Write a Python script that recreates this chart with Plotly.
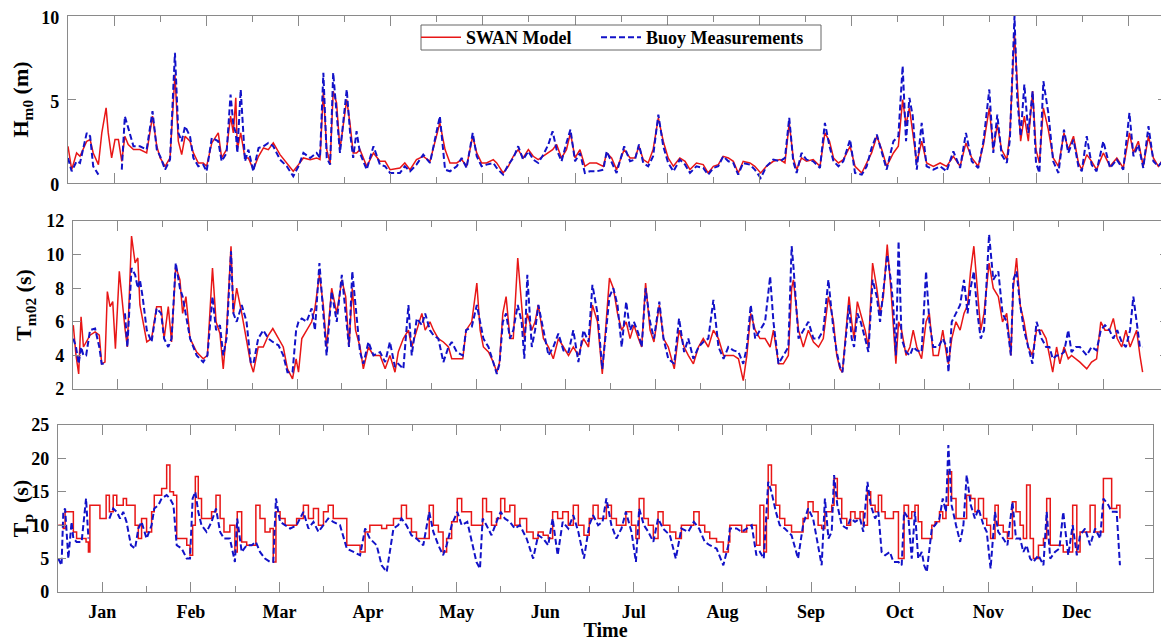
import plotly.graph_objects as go

# ---------------- data (day of year, values) ----------------
month_labels = ["Jan", "Feb", "Mar", "Apr", "May", "Jun", "Jul", "Aug", "Sep", "Oct", "Nov", "Dec"]

hm0_day = [0.0,1.2,2.8,3.9,6.1,7.2,8.2,9.9,11.0,12.4,
           13.1,14.2,15.3,16.4,17.5,18.5,19.6,21.3,23.4,25.6,
           27.5,28.9,30.0,31.6,33.2,34.8,35.9,37.0,38.1,39.7,
           40.8,42.4,44.0,45.1,46.8,48.9,50.0,51.6,52.9,53.8,
           54.6,55.1,56.2,57.6,58.7,60.3,62.0,63.6,65.2,66.8,
           69.0,71.2,73.3,75.0,76.6,78.8,80.9,82.0,83.1,84.2,
           85.3,86.3,87.4,88.5,90.7,91.8,92.8,93.9,95.0,97.2,
           99.4,101.5,103.2,104.8,108.0,109.6,111.3,113.4,115.6,117.8,
           119.4,121.0,122.7,124.3,126.5,128.1,129.7,131.7,133.0,134.6,
           136.2,138.4,139.5,141.6,143.3,144.9,146.5,148.1,149.8,151.4,
           153.0,154.7,156.3,157.7,159.0,160.6,162.2,163.5,165.0,166.6,
           168.2,169.8,172.0,174.2,175.3,176.9,178.5,181.0,182.9,184.5,
           185.8,187.2,188.8,190.4,192.1,193.7,195.3,197.0,199.1,200.8,
           202.4,204.5,206.7,208.3,210.0,211.6,213.2,214.9,216.5,218.1,
           219.7,221.9,223.5,225.4,227.3,229.5,231.7,233.3,234.7,236.0,
           237.1,238.7,240.3,242.5,244.7,246.3,247.8,249.1,250.7,252.3,
           254.5,256.1,258.3,259.9,261.5,263.2,264.8,266.4,268.6,270.2,
           271.6,272.7,273.8,274.9,276.2,277.8,279.4,281.6,283.8,285.9,
           288.1,290.3,292.2,294.1,296.2,297.9,299.8,301.1,302.4,303.8,
           305.5,306.5,308.0,308.9,310.0,311.2,312.5,313.9,315.0,316.1,
           317.4,319.0,320.6,322.3,324.1,325.5,327.2,328.8,329.9,331.5,
           333.1,334.7,336.9,339.1,341.3,343.4,345.4,346.7,348.3,349.9,
           351.6,353.2,354.8,357.0]
hm0_swan = [2.2,0.8,1.8,1.6,2.5,2.6,1.8,1.1,3.0,4.5,
            3.0,1.5,2.6,2.6,1.3,2.8,2.3,2.0,2.0,1.8,
            4.0,2.2,1.5,1.0,1.5,6.5,2.5,1.7,2.8,2.5,
            1.8,1.2,1.2,1.0,2.4,3.0,1.5,2.0,4.0,3.0,
            5.1,2.0,3.0,1.5,1.5,0.8,1.6,2.1,2.0,2.4,
            1.7,1.2,0.7,1.1,1.5,1.4,1.5,1.4,5.5,2.0,
            1.2,5.5,4.8,2.0,5.0,3.5,1.8,1.8,2.0,1.0,
            1.8,1.3,1.3,0.8,0.9,1.2,0.8,1.4,1.6,1.3,
            2.5,3.6,2.0,1.2,1.2,1.4,1.0,2.8,1.8,1.2,
            1.2,1.4,1.2,0.6,1.0,1.6,2.0,1.5,2.0,1.6,
            1.4,1.6,1.8,2.0,2.3,1.5,2.0,3.0,1.5,2.0,
            1.0,1.2,1.2,1.0,1.8,1.5,0.8,2.0,1.5,1.5,
            2.2,1.4,1.2,2.0,3.9,2.5,1.5,1.0,1.5,1.3,
            0.8,1.2,1.1,0.6,1.0,1.1,1.6,1.5,1.3,0.6,
            1.3,1.2,1.0,0.6,1.0,1.3,1.4,1.2,3.6,1.5,
            0.8,1.5,1.3,1.4,1.0,3.0,2.5,1.5,1.2,1.4,
            2.2,1.0,0.6,1.2,1.8,2.8,2.0,1.0,1.8,2.2,
            5.0,3.5,4.5,3.0,1.2,2.5,1.2,1.0,1.2,1.0,
            1.6,1.0,2.4,1.5,1.0,2.3,4.5,2.0,3.5,2.0,
            1.4,3.0,9.0,6.0,2.5,4.0,2.5,5.5,2.0,1.2,
            4.5,3.2,1.5,1.0,3.0,2.0,2.8,1.2,0.8,1.7,
            1.3,0.8,1.8,1.0,1.5,0.9,3.0,1.8,2.5,1.0,
            2.8,1.5,1.0,1.6]
hm0_buoy = [1.5,0.7,1.3,1.2,3.0,2.8,1.0,0.5,None,None,
            None,None,None,None,0.8,4.0,3.3,2.2,2.2,2.0,
            4.3,2.0,1.6,0.8,1.4,7.8,3.0,2.5,3.4,2.8,
            1.5,1.0,1.1,0.7,2.7,2.5,1.3,1.8,5.3,3.5,
            3.0,1.8,5.6,1.3,2.0,0.7,2.1,2.2,2.4,2.2,
            1.4,1.0,0.4,1.0,1.8,1.5,1.8,1.5,6.6,1.5,
            1.1,6.6,4.2,1.8,5.6,3.0,1.5,3.1,1.8,0.8,
            2.2,1.1,1.0,0.6,0.6,1.0,0.7,1.1,1.7,1.2,
            2.6,4.0,0.8,0.7,1.0,1.5,0.9,3.0,1.6,1.0,
            1.1,1.2,0.9,0.5,1.1,1.5,2.2,1.4,1.9,1.4,
            1.2,1.7,2.3,3.1,2.0,1.3,2.4,3.2,1.3,1.8,
            0.6,0.7,0.7,0.8,1.9,1.3,0.6,2.2,1.3,1.4,
            2.3,1.2,1.0,1.6,4.1,2.2,1.2,0.7,1.4,1.1,
            0.6,1.0,0.9,0.5,0.9,1.0,1.6,1.3,1.2,0.5,
            1.2,1.1,0.8,0.3,1.0,1.4,1.3,1.5,3.9,1.3,
            0.6,1.8,1.4,1.3,0.9,3.6,2.2,1.3,1.0,1.3,
            2.6,0.6,0.5,1.0,2.1,2.9,1.8,0.8,2.5,2.8,
            7.0,2.5,5.1,4.0,0.8,3.6,1.0,0.8,1.0,0.7,
            1.9,0.9,3.0,1.3,0.9,2.5,5.6,1.8,4.1,1.7,
            1.2,2.6,10.0,5.0,2.8,5.9,3.0,5.5,1.2,0.6,
            6.1,4.2,1.3,0.6,3.2,1.8,2.6,1.0,0.7,2.8,
            1.1,0.7,2.5,0.9,1.4,0.8,4.2,1.6,2.3,0.9,
            3.4,1.3,1.0,1.5]

tm02_day = [0.1,1.0,1.9,2.7,3.5,4.4,5.7,7.4,8.8,9.6,
            10.7,11.5,12.4,13.3,14.2,15.5,16.3,17.4,18.2,19.6,
            20.8,21.7,22.4,23.3,24.7,26.3,28.0,29.5,30.5,31.9,
            33.0,34.4,35.8,36.7,37.8,39.2,41.4,43.6,45.0,46.7,
            47.9,49.2,50.3,51.4,52.9,53.7,54.8,56.5,58.1,59.5,
            60.4,62.0,63.7,65.4,66.9,68.8,70.4,71.8,73.5,74.7,
            75.5,76.6,78.2,79.9,81.0,82.5,83.8,84.9,86.6,88.3,
            90.0,91.3,92.4,93.5,94.6,96.1,97.2,98.9,100.6,102.8,
            104.5,106.1,107.8,108.9,110.6,112.3,113.4,115.1,116.8,117.9,
            119.5,120.7,122.3,124.0,125.7,126.8,128.5,130.5,131.6,133.5,
            135.2,136.3,137.4,139.1,140.7,141.9,142.8,143.9,145.0,146.3,
            147.4,148.9,150.2,151.1,152.1,153.6,154.7,155.8,157.5,159.2,
            160.8,162.5,164.2,165.9,167.5,169.2,170.9,172.6,173.9,175.6,
            177.2,178.5,179.6,180.9,182.3,183.7,185.2,186.5,187.8,189.3,
            190.4,191.7,193.2,194.5,196.3,197.7,199.3,201.3,202.9,204.6,
            206.0,207.7,209.4,211.0,212.7,214.4,216.1,217.8,219.4,221.1,
            222.8,224.4,225.6,226.9,228.4,230.0,231.7,233.4,234.5,236.2,
            237.8,239.5,240.6,241.2,242.9,244.5,246.2,247.9,249.6,251.2,
            252.9,254.6,255.7,256.8,257.6,258.7,259.8,260.7,261.5,262.6,
            263.7,265.2,266.3,267.7,269.1,270.2,271.3,272.6,273.8,274.6,
            275.5,276.4,277.4,278.9,280.2,281.3,282.5,284.1,285.6,286.7,
            288.0,289.7,291.2,292.5,293.1,294.2,295.6,297.0,298.3,299.5,
            300.5,301.6,302.8,303.9,305.0,306.7,308.1,309.8,311.2,312.6,
            314.0,314.8,315.9,317.1,318.4,319.8,321.2,322.6,324.3,325.8,
            326.9,328.0,329.3,330.4,331.8,333.2,334.3,335.8,337.1,339.4,
            341.0,342.7,344.1,345.5,347.0,348.3,349.6,351.1,352.5,353.9,
            355.0,356.1,357.2,358.1]
tm02_swan = [5.8,4.0,2.9,6.3,4.5,4.8,5.2,5.4,5.2,3.5,
             3.6,7.8,6.9,7.2,4.4,9.0,7.5,5.6,4.5,11.1,
             9.5,9.8,7.0,6.2,4.8,5.0,6.9,6.9,5.0,6.9,
             4.8,9.3,8.5,6.5,7.5,5.0,4.2,3.8,4.0,9.2,
             6.0,5.3,3.2,5.5,10.5,6.5,8.0,6.5,5.0,3.5,
             3.0,4.5,4.5,5.2,5.6,5.0,4.5,3.2,2.6,3.8,
             3.0,5.0,5.5,6.0,6.8,8.8,7.0,4.5,8.0,6.5,
             8.5,7.5,4.5,8.0,5.5,4.5,3.2,4.5,4.0,4.0,
             3.2,4.0,3.0,4.2,5.0,5.5,4.5,5.5,6.5,5.5,
             6.0,5.5,5.0,4.8,4.5,3.8,3.8,3.8,5.5,6.0,
             8.3,5.5,4.5,4.2,3.6,3.0,3.6,6.5,7.5,5.0,
             5.0,9.8,7.0,5.0,6.5,5.5,6.0,7.0,5.0,4.5,
             3.8,5.0,4.5,4.0,4.5,4.0,5.0,4.5,7.0,6.0,
             2.9,6.0,8.6,8.0,6.5,5.5,6.0,5.0,5.8,5.0,
             4.5,8.3,5.5,4.8,7.0,5.0,4.5,3.2,5.5,4.5,
             4.0,3.5,4.5,5.0,4.5,5.5,5.0,4.0,4.0,4.0,
             3.8,2.5,4.0,6.5,5.5,5.0,5.0,4.5,5.5,3.5,
             3.5,4.0,8.0,8.5,5.5,4.5,5.5,4.8,4.5,5.0,
             7.5,6.0,4.0,3.2,3.0,5.5,7.5,6.0,5.0,7.2,
             6.5,5.5,4.5,9.5,8.0,6.5,7.5,10.6,8.0,6.0,
             3.5,6.0,5.5,4.0,4.5,5.5,4.5,3.8,6.0,6.5,
             4.0,4.0,5.5,4.0,3.5,5.0,6.0,5.5,6.5,7.0,
             9.0,10.5,8.0,5.5,6.5,9.5,8.0,7.5,6.0,6.5,
             4.0,8.0,9.8,7.0,6.0,4.5,4.0,5.5,5.5,5.0,
             4.0,3.0,4.5,3.5,4.5,3.8,4.0,3.8,3.6,3.2,
             3.6,3.8,6.0,5.5,5.5,6.2,5.0,4.5,5.5,4.5,
             5.0,5.5,4.0,3.0]
tm02_buoy = [5.0,4.5,3.5,4.5,4.0,4.0,5.5,5.6,4.5,3.5,
             3.5,None,None,None,None,None,None,6.5,4.5,9.2,
             8.8,8.0,8.5,7.5,5.5,4.8,6.8,6.5,5.0,4.5,
             5.0,9.5,8.0,7.5,6.5,5.0,4.0,3.6,4.0,7.5,
             5.5,5.8,4.0,5.0,10.2,6.5,6.0,7.0,6.0,3.6,
             3.5,5.0,5.5,5.0,4.8,4.6,4.0,3.0,3.0,5.5,
             6.0,6.2,6.0,6.8,5.5,9.5,6.5,4.0,7.8,6.0,
             8.8,6.5,4.5,9.0,6.8,4.2,3.5,4.8,4.0,4.2,
             3.6,4.8,3.3,3.5,3.2,7.0,4.0,6.2,5.8,6.5,
             5.5,5.2,5.0,3.6,4.5,4.8,4.2,4.0,5.5,5.7,
             7.0,6.0,5.0,4.5,3.5,2.9,3.5,6.0,6.5,5.0,
             5.5,7.0,6.0,3.8,8.8,4.5,5.5,7.0,5.5,4.0,
             4.5,5.3,4.3,4.2,5.5,3.6,5.5,4.8,8.2,6.5,
             3.2,5.5,7.5,8.0,7.0,4.5,7.2,5.5,6.0,5.3,
             4.5,8.0,6.0,5.0,7.2,5.0,3.8,3.5,6.2,4.2,
             5.0,3.8,4.5,4.8,5.0,7.3,4.5,3.8,4.5,4.3,
             4.2,3.5,4.5,7.0,5.0,5.5,6.0,8.7,6.0,3.5,
             4.0,4.5,10.5,9.3,5.0,5.5,6.0,5.0,5.0,5.5,
             8.5,5.5,4.2,3.3,3.0,5.0,7.0,5.0,4.5,6.5,
             6.0,5.0,4.2,8.5,7.5,6.0,8.0,10.0,8.5,7.0,
             4.0,10.8,5.0,4.2,4.0,4.5,4.3,4.2,9.0,6.0,
             4.5,4.5,5.0,4.5,3.0,6.0,6.5,7.0,8.5,6.5,
             8.0,9.0,6.5,5.0,5.5,11.2,8.5,9.0,6.5,6.0,
             4.0,8.5,9.0,7.0,5.5,4.5,3.5,6.0,5.0,4.5,
             4.5,3.8,4.0,4.0,4.2,5.5,4.2,4.5,4.5,4.0,
             4.5,4.3,5.5,5.8,5.5,5.0,5.5,4.8,4.5,5.5,
             7.5,6.0,4.5,4.5]

tp_day = [0.1,1.2,1.8,2.4,3.5,4.6,5.2,6.3,8.0,9.5,
          10.3,10.8,13.1,14.2,16.3,17.4,18.7,19.9,21.0,22.1,
          23.2,24.7,26.1,27.2,28.3,30.0,31.7,32.6,34.0,35.1,
          36.8,37.9,39.1,40.2,41.9,43.6,44.7,45.6,46.5,47.5,
          48.6,50.3,52.0,53.5,54.9,56.2,58.2,59.9,60.7,62.2,
          63.9,65.6,67.0,68.4,70.1,71.8,72.9,73.8,75.2,76.9,
          78.6,80.8,83.1,84.8,86.5,88.2,89.9,91.5,93.2,95.5,
          97.8,100.0,102.3,104.0,105.6,107.9,109.6,111.3,113.6,115.2,
          116.3,118.0,119.7,121.4,123.7,125.7,127.1,128.8,130.4,131.6,
          133.3,135.2,136.7,138.6,140.0,141.7,142.9,143.8,145.1,146.8,
          148.5,149.9,151.3,153.0,154.7,156.4,158.7,160.9,162.6,164.3,
          166.0,167.5,169.2,170.9,172.8,174.5,176.2,178.1,179.9,181.2,
          182.9,184.4,185.7,187.4,189.1,190.8,192.3,194.2,195.7,196.8,
          198.4,199.9,201.6,203.2,204.9,207.2,209.2,211.1,213.4,215.3,
          217.1,219.0,220.7,223.0,225.3,227.0,227.5,229.8,231.5,233.2,
          234.9,236.5,237.7,239.0,239.9,240.5,241.6,243.1,244.4,246.1,
          248.4,250.6,252.3,254.0,255.7,257.4,258.6,259.7,260.9,262.0,
          262.8,263.9,265.4,267.1,268.4,269.9,271.6,272.7,274.1,275.2,
          276.7,277.8,278.9,280.1,281.7,282.9,284.6,285.7,286.5,288.0,
          289.1,290.2,291.3,292.5,293.3,294.2,295.9,297.0,298.5,299.6,
          300.7,301.5,302.6,304.1,305.5,306.6,307.7,309.1,310.5,311.7,
          313.4,314.5,315.8,317.3,318.4,320.1,321.5,323.2,324.4,325.8,
          326.9,328.0,329.2,330.3,332.0,333.7,334.8,336.0,337.6,339.1,
          340.4,342.1,343.6,345.0,346.1,347.8,349.5,351.2,352.9,354.0,
          355.7,356.8,358.5,359.6]
tp_swan = [10.0,10.0,9.5,12.0,12.0,12.0,9.0,8.0,8.0,7.5,
           6.0,13.0,13.0,11.0,14.5,12.0,14.5,13.0,13.0,14.0,
           13.0,13.0,10.0,8.0,11.0,9.0,12.0,14.5,14.5,15.5,
           19.0,15.0,14.5,8.0,8.0,7.0,5.5,10.0,17.3,14.0,
           11.0,11.0,12.0,14.5,11.0,9.0,10.0,6.0,12.0,7.5,
           7.0,7.0,13.0,11.0,9.0,9.5,4.5,12.0,11.0,10.0,
           10.0,11.0,13.0,11.0,12.5,10.0,12.0,13.0,11.0,11.0,
           7.0,7.0,6.0,9.0,10.0,10.0,9.5,10.0,11.0,11.0,
           13.0,11.0,9.0,8.0,8.0,13.0,10.0,9.0,6.0,8.0,
           10.5,14.0,12.0,12.0,10.0,10.0,10.0,14.0,12.0,10.0,
           11.0,14.0,12.0,13.0,10.0,11.0,9.0,8.0,9.0,8.5,
           8.0,12.0,11.0,12.0,10.0,13.0,10.0,8.5,11.0,13.0,
           11.0,11.0,13.0,11.0,10.0,10.0,12.0,10.0,8.0,14.0,
           11.0,10.0,8.0,12.0,10.0,9.0,8.0,10.0,10.0,12.0,
           10.0,9.0,8.0,7.5,6.0,7.5,10.0,10.0,9.0,10.0,
           10.0,7.0,13.0,6.0,11.0,19.0,16.0,13.0,11.0,10.0,
           9.0,9.0,11.0,13.5,12.0,10.0,9.5,12.0,12.0,13.0,
           17.0,14.0,11.0,10.0,12.0,11.0,12.0,10.0,15.0,13.0,
           12.0,14.5,12.0,11.0,11.0,12.0,5.0,5.0,13.0,11.0,
           12.0,13.0,10.5,8.0,8.0,8.0,10.0,10.5,12.0,11.0,
           13.0,18.0,14.0,11.0,11.0,11.0,14.5,14.0,12.0,14.0,
           11.0,10.0,8.0,13.0,10.0,9.0,8.0,13.5,12.0,10.0,
           8.0,16.0,8.0,5.0,7.0,8.0,14.0,7.0,7.0,7.0,
           6.0,6.0,13.0,6.0,9.0,9.0,13.0,9.0,9.0,17.0,
           17.0,12.5,13.0,11.0]
tp_buoy = [5.0,4.0,12.0,12.5,5.0,10.5,8.0,7.5,7.5,14.0,
           8.0,None,None,None,None,11.0,12.5,12.0,11.0,12.0,
           10.5,7.0,6.5,9.5,10.5,8.0,10.0,12.5,13.0,14.0,
           14.5,14.0,13.0,7.0,6.5,5.0,5.0,14.0,15.0,12.0,
           10.0,9.0,10.5,12.5,9.0,8.0,8.0,4.5,11.0,6.0,
           7.0,7.0,7.5,6.0,5.0,4.5,4.5,14.0,10.5,10.0,
           9.5,10.0,12.0,9.5,10.5,9.0,10.0,11.0,10.5,10.0,
           6.5,6.0,5.5,9.5,8.0,7.0,4.0,3.0,9.5,10.0,
           11.0,10.0,8.5,8.0,7.0,12.0,9.0,7.0,5.5,7.0,
           10.0,12.0,10.0,10.5,8.0,4.5,3.5,11.0,10.0,8.5,
           10.5,12.0,11.0,10.5,9.5,10.0,8.0,5.0,8.5,8.0,
           7.0,11.0,5.5,10.5,9.5,11.5,9.0,5.0,10.0,11.5,
           10.0,10.5,14.0,10.0,8.0,9.5,12.0,9.0,4.5,12.5,
           10.0,9.0,7.5,11.0,9.5,8.5,5.0,9.5,9.0,10.5,
           9.5,7.5,7.0,6.5,4.0,7.0,9.5,9.5,9.0,9.5,
           10.0,5.5,6.0,5.0,13.0,16.5,15.0,12.0,10.0,9.5,
           8.5,5.0,10.0,12.5,11.0,7.0,4.0,14.0,8.0,9.0,
           17.5,13.0,10.0,9.5,11.0,10.5,11.0,9.0,16.5,13.0,
           11.0,12.0,6.0,5.5,6.0,4.5,4.5,4.0,12.0,11.0,
           5.0,12.0,5.0,6.0,4.0,3.0,9.5,10.0,11.0,14.0,
           12.0,22.0,13.0,10.0,7.5,10.0,17.5,13.0,11.0,12.5,
           10.0,9.0,3.5,12.0,9.0,8.0,7.0,13.5,8.0,8.0,
           6.0,7.0,5.0,4.5,5.5,4.0,12.0,5.0,6.0,6.5,
           12.0,5.5,10.0,5.5,8.5,9.5,7.0,9.5,8.0,14.0,
           13.0,12.0,12.0,4.0]

# ---------------- styling ----------------
# The page body has an 8 px default margin, so the figure is drawn 8 px in
# from the top-left of the window; all positions below are window pixels.
OFF = 8
W, H = 1169 - OFF, 641 - OFF
def px(x):
    return (x - OFF) / W
def py(y):
    return 1 - (y - OFF) / H

FONT = "Liberation Serif, Times New Roman, serif"
RED = "rgb(232,22,22)"
BLUE = "rgb(18,18,200)"
GRAY = "#8a8a8a"

major_days = list(range(15, 346, 30))     # month label positions
minor_days = list(range(30, 331, 30))     # half-month ticks

panels = [
    dict(days=hm0_day, swan=hm0_swan, buoy=hm0_buoy, xr=[0, 357.3], yr=[0, 10],
         ytv=[0, 5, 10], title="H<sub>m0</sub> (m)", yshift=2,
         xdom=[px(68), px(1166)], ydom=[py(183), py(16)], shape="linear"),
    dict(days=tm02_day, swan=tm02_swan, buoy=tm02_buoy, xr=[0, 366.6], yr=[2, 12],
         ytv=[2, 4, 6, 8, 10, 12], title="T<sub>m02</sub> (s)", yshift=0,
         xdom=[px(73), px(1168)], ydom=[py(389), py(221)], shape="linear"),
    dict(days=tp_day, swan=tp_swan, buoy=tp_buoy, xr=[0, 370.8], yr=[0, 25],
         ytv=[0, 5, 10, 15, 20, 25], title="T<sub>p</sub>  (s)", yshift=0,
         xdom=[px(58), px(1153)], ydom=[py(592), py(425)], shape="hv"),
]

fig = go.Figure()
layout = {}
for i, p in enumerate(panels):
    n = "" if i == 0 else str(i + 1)
    fig.add_trace(go.Scatter(x=p["days"], y=p["swan"], mode="lines", name="SWAN Model",
                             line=dict(color=RED, width=1.5, shape=p["shape"]),
                             xaxis="x" + n, yaxis="y" + n, showlegend=(i == 0),
                             legend="legend", connectgaps=False))
    fig.add_trace(go.Scatter(x=p["days"], y=p["buoy"], mode="lines", name="Buoy Measurements",
                             line=dict(color=BLUE, width=2, dash="6px,3px"),
                             xaxis="x" + n, yaxis="y" + n, showlegend=(i == 0),
                             legend="legend2", connectgaps=False))
    last = (i == 2)
    xa = dict(
        domain=p["xdom"], range=p["xr"], anchor="y" + n, automargin=False,
        tickmode="array", tickvals=major_days, ticktext=month_labels,
        showticklabels=last, ticks="inside", ticklen=10, tickcolor=GRAY, tickwidth=1,
        minor=dict(tickmode="array", tickvals=minor_days, ticks="inside", ticklen=6,
                   tickcolor=GRAY, tickwidth=1, showgrid=False),
        showline=True, linecolor=GRAY, linewidth=1.2, mirror="ticks",
        showgrid=False, zeroline=False,
        tickfont=dict(family=FONT, size=18, color="black", weight="bold"),
        ticklabelstandoff=3, ticklabeloverflow="allow",
    )
    if last:
        xa["title"] = dict(text="Time",
                           font=dict(family=FONT, size=20, color="black", weight="bold"),
                           standoff=3)
    layout["xaxis" + n] = xa
    layout["yaxis" + n] = dict(
        domain=p["ydom"], range=p["yr"], anchor="x" + n, automargin=False,
        tickmode="array", tickvals=p["ytv"],
        ticks="inside", ticklen=8, tickcolor=GRAY, tickwidth=1,
        showline=True, linecolor=GRAY, linewidth=1.2, mirror="ticks",
        showgrid=False, zeroline=False,
        tickfont=dict(family=FONT, size=18, color="black", weight="bold"),
        title=dict(text=p["title"], font=dict(family=FONT, size=22, color="black", weight="bold"),
                   standoff=8),
        ticklabelstandoff=4, ticklabeloverflow="allow", ticklabelshift=p["yshift"],
    )

legend_font = dict(family=FONT, size=18, color="black", weight="bold")
fig.update_layout(
    template="none",
    width=W, height=H, autosize=False,
    margin=dict(l=0, r=0, t=0, b=0, pad=0),
    paper_bgcolor="white", plot_bgcolor="white",
    legend=dict(orientation="h", x=px(416), y=py(19), xanchor="left", yanchor="top",
                bgcolor="rgba(0,0,0,0)", borderwidth=0, font=legend_font, itemwidth=40),
    legend2=dict(orientation="h", x=px(596), y=py(19), xanchor="left", yanchor="top",
                 bgcolor="rgba(0,0,0,0)", borderwidth=0, font=legend_font, itemwidth=40),
    shapes=[dict(type="rect", xref="paper", yref="paper",
                 x0=px(421), x1=px(821), y0=py(50), y1=py(25),
                 line=dict(color="#666666", width=1), fillcolor="white", layer="above")],
    **layout,
)

fig.write_html("out.html")
